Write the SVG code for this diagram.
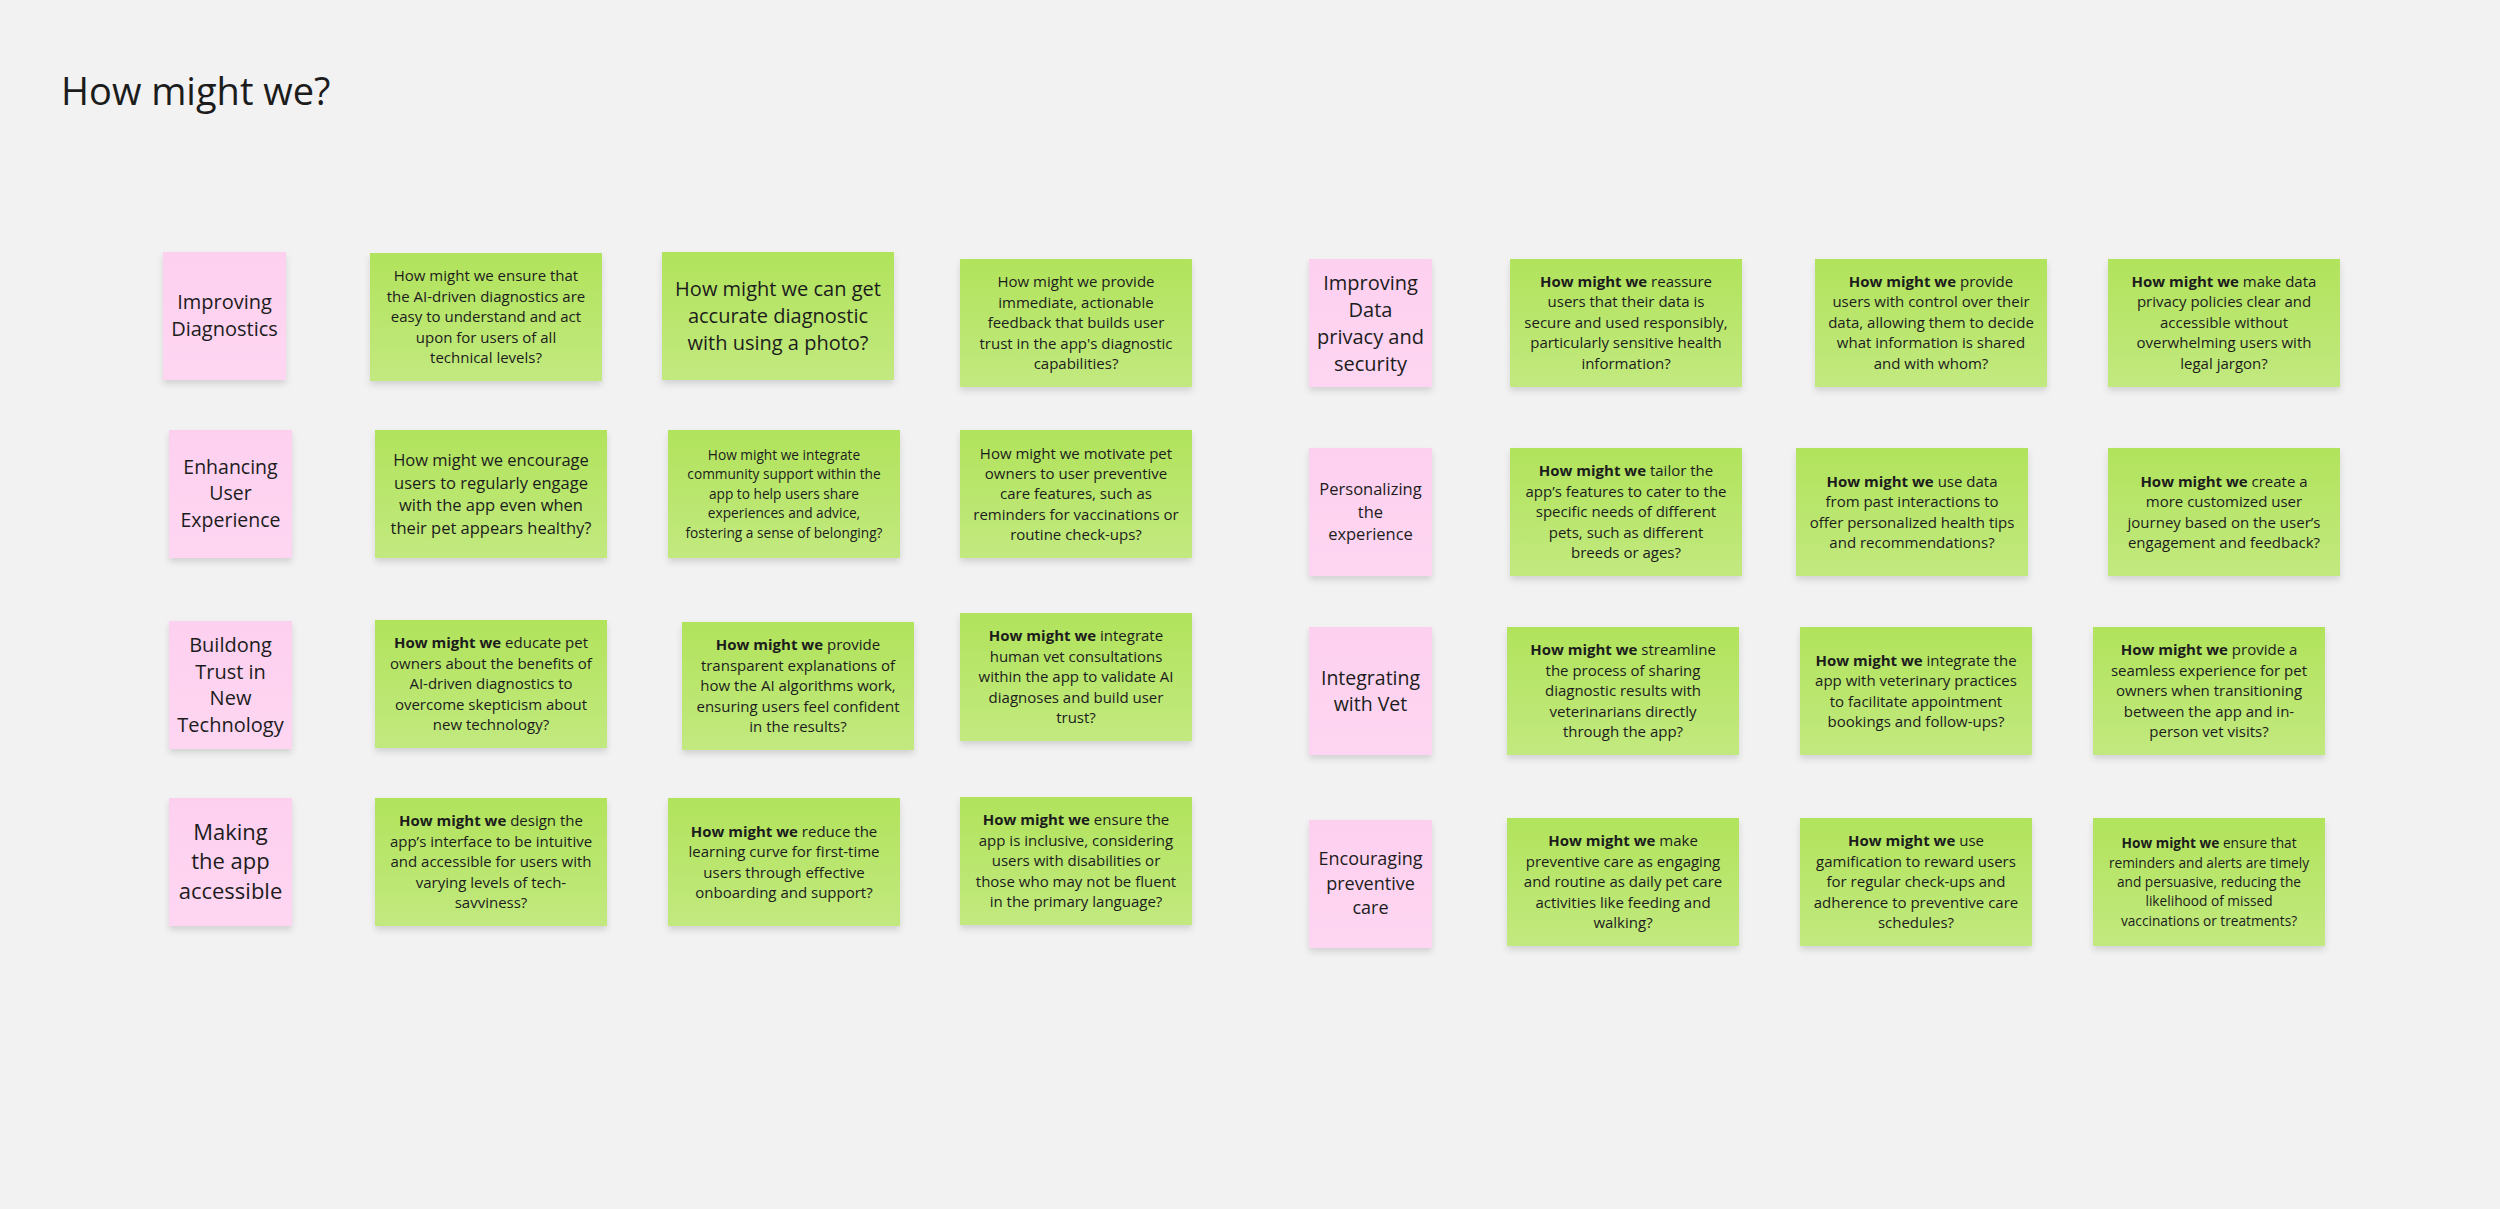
<svg xmlns="http://www.w3.org/2000/svg" width="2500" height="1209" viewBox="0 0 2500 1209">
<defs>
<linearGradient id="gg" x1="0" y1="0" x2="0" y2="1">
<stop offset="0" stop-color="#b1e35c"/>
<stop offset="1" stop-color="#c2e97f"/>
</linearGradient>
<linearGradient id="pg" x1="0" y1="0" x2="0" y2="1">
<stop offset="0" stop-color="#fdd0ef"/>
<stop offset="1" stop-color="#fed6f2"/>
</linearGradient>
<filter id="sh" x="-10%" y="-10%" width="120%" height="130%">
<feDropShadow dx="0" dy="4" stdDeviation="3" flood-color="#000" flood-opacity="0.13"/>
</filter>
</defs>
<style>
.g{fill:url(#gg);filter:url(#sh)}
.p{fill:url(#pg);filter:url(#sh)}
text{font-family:"Open Sans","Noto Sans","Liberation Sans",sans-serif;fill:#1c1c1c;text-anchor:middle}
.f14{font-size:13.7px}.f15{font-size:15px}.f165{font-size:16.5px}.f18{font-size:18px}.f195{font-size:19.5px}.f20{font-size:20px}.f22{font-size:22px}
.b{font-weight:700}
.title{font-size:38px;text-anchor:start}
</style>
<rect width="2500" height="1209" fill="#f2f2f2"/>
<text class="title" x="61" y="105">How might we?</text>

<!-- Row 1 left -->
<g id="p-improving-diagnostics"><rect class="p" x="163" y="252" width="123" height="128"/>
<text class="f20" y="309"><tspan x="224.5">Improving</tspan><tspan x="224.5" dy="26.5">Diagnostics</tspan></text></g>
<g id="g-1a"><rect class="g" x="370" y="253" width="232" height="128"/>
<text class="f15" y="281"><tspan x="486">How might we ensure that</tspan><tspan x="486" dy="20.6">the AI-driven diagnostics are</tspan><tspan x="486" dy="20.6">easy to understand and act</tspan><tspan x="486" dy="20.6">upon for users of all</tspan><tspan x="486" dy="20.6">technical levels?</tspan></text></g>
<g id="g-1b"><rect class="g" x="662" y="252" width="232" height="128"/>
<text class="f20" y="296"><tspan x="778">How might we can get</tspan><tspan x="778" dy="27">accurate diagnostic</tspan><tspan x="778" dy="27">with using a photo?</tspan></text></g>
<g id="g-1c"><rect class="g" x="960" y="259" width="232" height="128"/>
<text class="f15" y="287"><tspan x="1076">How might we provide</tspan><tspan x="1076" dy="20.6">immediate, actionable</tspan><tspan x="1076" dy="20.6">feedback that builds user</tspan><tspan x="1076" dy="20.6">trust in the app's diagnostic</tspan><tspan x="1076" dy="20.6">capabilities?</tspan></text></g>

<!-- Row 1 right -->
<g id="p-data-privacy"><rect class="p" x="1309" y="259" width="123" height="128"/>
<text class="f20" y="289.5"><tspan x="1370.5">Improving</tspan><tspan x="1370.5" dy="27">Data</tspan><tspan x="1370.5" dy="27">privacy and</tspan><tspan x="1370.5" dy="27">security</tspan></text></g>
<g id="g-1d"><rect class="g" x="1510" y="259" width="232" height="128"/>
<text class="f15" y="287"><tspan x="1626"><tspan class="b">How might we</tspan> reassure</tspan><tspan x="1626" dy="20.4">users that their data is</tspan><tspan x="1626" dy="20.4">secure and used responsibly,</tspan><tspan x="1626" dy="20.4">particularly sensitive health</tspan><tspan x="1626" dy="20.4">information?</tspan></text></g>
<g id="g-1e"><rect class="g" x="1815" y="259" width="232" height="128"/>
<text class="f15" y="287"><tspan x="1931"><tspan class="b">How might we</tspan> provide</tspan><tspan x="1931" dy="20.4">users with control over their</tspan><tspan x="1931" dy="20.4">data, allowing them to decide</tspan><tspan x="1931" dy="20.4">what information is shared</tspan><tspan x="1931" dy="20.4">and with whom?</tspan></text></g>
<g id="g-1f"><rect class="g" x="2108" y="259" width="232" height="128"/>
<text class="f15" y="287"><tspan x="2224"><tspan class="b">How might we</tspan> make data</tspan><tspan x="2224" dy="20.4">privacy policies clear and</tspan><tspan x="2224" dy="20.4">accessible without</tspan><tspan x="2224" dy="20.4">overwhelming users with</tspan><tspan x="2224" dy="20.4">legal jargon?</tspan></text></g>

<!-- Row 2 left -->
<g id="p-user-experience"><rect class="p" x="169" y="430" width="123" height="128"/>
<text class="f195" y="474"><tspan x="230.5">Enhancing</tspan><tspan x="230.5" dy="26.3">User</tspan><tspan x="230.5" dy="26.3">Experience</tspan></text></g>
<g id="g-2a"><rect class="g" x="375" y="430" width="232" height="128"/>
<text class="f165" y="465.8"><tspan x="491">How might we encourage</tspan><tspan x="491" dy="22.7">users to regularly engage</tspan><tspan x="491" dy="22.7">with the app even when</tspan><tspan x="491" dy="22.7">their pet appears healthy?</tspan></text></g>
<g id="g-2b"><rect class="g" x="668" y="430" width="232" height="128"/>
<text class="f14" y="460"><tspan x="784">How might we integrate</tspan><tspan x="784" dy="19.4">community support within the</tspan><tspan x="784" dy="19.4">app to help users share</tspan><tspan x="784" dy="19.4">experiences and advice,</tspan><tspan x="784" dy="19.4">fostering a sense of belonging?</tspan></text></g>
<g id="g-2c"><rect class="g" x="960" y="430" width="232" height="128"/>
<text class="f15" y="458.6"><tspan x="1076">How might we motivate pet</tspan><tspan x="1076" dy="20.3">owners to user preventive</tspan><tspan x="1076" dy="20.3">care features, such as</tspan><tspan x="1076" dy="20.3">reminders for vaccinations or</tspan><tspan x="1076" dy="20.3">routine check-ups?</tspan></text></g>

<!-- Row 2 right -->
<g id="p-personalizing"><rect class="p" x="1309" y="448" width="123" height="128"/>
<text class="f165" y="495"><tspan x="1370.5">Personalizing</tspan><tspan x="1370.5" dy="22.5">the</tspan><tspan x="1370.5" dy="22.5">experience</tspan></text></g>
<g id="g-2d"><rect class="g" x="1510" y="448" width="232" height="128"/>
<text class="f15" y="476.3"><tspan x="1626"><tspan class="b">How might we</tspan> tailor the</tspan><tspan x="1626" dy="20.5">app’s features to cater to the</tspan><tspan x="1626" dy="20.5">specific needs of different</tspan><tspan x="1626" dy="20.5">pets, such as different</tspan><tspan x="1626" dy="20.5">breeds or ages?</tspan></text></g>
<g id="g-2e"><rect class="g" x="1796" y="448" width="232" height="128"/>
<text class="f15" y="486.5"><tspan x="1912"><tspan class="b">How might we</tspan> use data</tspan><tspan x="1912" dy="20.5">from past interactions to</tspan><tspan x="1912" dy="20.5">offer personalized health tips</tspan><tspan x="1912" dy="20.5">and recommendations?</tspan></text></g>
<g id="g-2f"><rect class="g" x="2108" y="448" width="232" height="128"/>
<text class="f15" y="486.5"><tspan x="2224"><tspan class="b">How might we</tspan> create a</tspan><tspan x="2224" dy="20.5">more customized user</tspan><tspan x="2224" dy="20.5">journey based on the user’s</tspan><tspan x="2224" dy="20.5">engagement and feedback?</tspan></text></g>

<!-- Row 3 left -->
<g id="p-trust"><rect class="p" x="169" y="621" width="123" height="128"/>
<text class="f20" y="652"><tspan x="230.5">Buildong</tspan><tspan x="230.5" dy="26.7">Trust in</tspan><tspan x="230.5" dy="26.7">New</tspan><tspan x="230.5" dy="26.7">Technology</tspan></text></g>
<g id="g-3a"><rect class="g" x="375" y="620" width="232" height="128"/>
<text class="f15" y="648.3"><tspan x="491"><tspan class="b">How might we</tspan> educate pet</tspan><tspan x="491" dy="20.5">owners about the benefits of</tspan><tspan x="491" dy="20.5">AI-driven diagnostics to</tspan><tspan x="491" dy="20.5">overcome skepticism about</tspan><tspan x="491" dy="20.5">new technology?</tspan></text></g>
<g id="g-3b"><rect class="g" x="682" y="622" width="232" height="128"/>
<text class="f15" y="650.3"><tspan x="798"><tspan class="b">How might we</tspan> provide</tspan><tspan x="798" dy="20.5">transparent explanations of</tspan><tspan x="798" dy="20.5">how the AI algorithms work,</tspan><tspan x="798" dy="20.5">ensuring users feel confident</tspan><tspan x="798" dy="20.5">in the results?</tspan></text></g>
<g id="g-3c"><rect class="g" x="960" y="613" width="232" height="128"/>
<text class="f15" y="641.3"><tspan x="1076"><tspan class="b">How might we</tspan> integrate</tspan><tspan x="1076" dy="20.5">human vet consultations</tspan><tspan x="1076" dy="20.5">within the app to validate AI</tspan><tspan x="1076" dy="20.5">diagnoses and build user</tspan><tspan x="1076" dy="20.5">trust?</tspan></text></g>

<!-- Row 3 right -->
<g id="p-vet"><rect class="p" x="1309" y="627" width="123" height="128"/>
<text class="f195" y="684.5"><tspan x="1370.5">Integrating</tspan><tspan x="1370.5" dy="26.3">with Vet</tspan></text></g>
<g id="g-3d"><rect class="g" x="1507" y="627" width="232" height="128"/>
<text class="f15" y="655.3"><tspan x="1623"><tspan class="b">How might we</tspan> streamline</tspan><tspan x="1623" dy="20.5">the process of sharing</tspan><tspan x="1623" dy="20.5">diagnostic results with</tspan><tspan x="1623" dy="20.5">veterinarians directly</tspan><tspan x="1623" dy="20.5">through the app?</tspan></text></g>
<g id="g-3e"><rect class="g" x="1800" y="627" width="232" height="128"/>
<text class="f15" y="665.5"><tspan x="1916"><tspan class="b">How might we</tspan> integrate the</tspan><tspan x="1916" dy="20.5">app with veterinary practices</tspan><tspan x="1916" dy="20.5">to facilitate appointment</tspan><tspan x="1916" dy="20.5">bookings and follow-ups?</tspan></text></g>
<g id="g-3f"><rect class="g" x="2093" y="627" width="232" height="128"/>
<text class="f15" y="655.3"><tspan x="2209"><tspan class="b">How might we</tspan> provide a</tspan><tspan x="2209" dy="20.5">seamless experience for pet</tspan><tspan x="2209" dy="20.5">owners when transitioning</tspan><tspan x="2209" dy="20.5">between the app and in-</tspan><tspan x="2209" dy="20.5">person vet visits?</tspan></text></g>

<!-- Row 4 left -->
<g id="p-accessible"><rect class="p" x="169" y="798" width="123" height="128"/>
<text class="f22" y="839.5"><tspan x="230.5">Making</tspan><tspan x="230.5" dy="29.7">the app</tspan><tspan x="230.5" dy="29.7">accessible</tspan></text></g>
<g id="g-4a"><rect class="g" x="375" y="798" width="232" height="128"/>
<text class="f15" y="826.3"><tspan x="491"><tspan class="b">How might we</tspan> design the</tspan><tspan x="491" dy="20.5">app’s interface to be intuitive</tspan><tspan x="491" dy="20.5">and accessible for users with</tspan><tspan x="491" dy="20.5">varying levels of tech-</tspan><tspan x="491" dy="20.5">savviness?</tspan></text></g>
<g id="g-4b"><rect class="g" x="668" y="798" width="232" height="128"/>
<text class="f15" y="836.5"><tspan x="784"><tspan class="b">How might we</tspan> reduce the</tspan><tspan x="784" dy="20.5">learning curve for first-time</tspan><tspan x="784" dy="20.5">users through effective</tspan><tspan x="784" dy="20.5">onboarding and support?</tspan></text></g>
<g id="g-4c"><rect class="g" x="960" y="797" width="232" height="128"/>
<text class="f15" y="825.3"><tspan x="1076"><tspan class="b">How might we</tspan> ensure the</tspan><tspan x="1076" dy="20.5">app is inclusive, considering</tspan><tspan x="1076" dy="20.5">users with disabilities or</tspan><tspan x="1076" dy="20.5">those who may not be fluent</tspan><tspan x="1076" dy="20.5">in the primary language?</tspan></text></g>

<!-- Row 4 right -->
<g id="p-preventive"><rect class="p" x="1309" y="820" width="123" height="128"/>
<text class="f18" y="865"><tspan x="1370.5">Encouraging</tspan><tspan x="1370.5" dy="24.5">preventive</tspan><tspan x="1370.5" dy="24.5">care</tspan></text></g>
<g id="g-4d"><rect class="g" x="1507" y="818" width="232" height="128"/>
<text class="f15" y="846.3"><tspan x="1623"><tspan class="b">How might we</tspan> make</tspan><tspan x="1623" dy="20.5">preventive care as engaging</tspan><tspan x="1623" dy="20.5">and routine as daily pet care</tspan><tspan x="1623" dy="20.5">activities like feeding and</tspan><tspan x="1623" dy="20.5">walking?</tspan></text></g>
<g id="g-4e"><rect class="g" x="1800" y="818" width="232" height="128"/>
<text class="f15" y="846.3"><tspan x="1916"><tspan class="b">How might we</tspan> use</tspan><tspan x="1916" dy="20.5">gamification to reward users</tspan><tspan x="1916" dy="20.5">for regular check-ups and</tspan><tspan x="1916" dy="20.5">adherence to preventive care</tspan><tspan x="1916" dy="20.5">schedules?</tspan></text></g>
<g id="g-4f"><rect class="g" x="2093" y="818" width="232" height="128"/>
<text class="f14" y="848.3"><tspan x="2209"><tspan class="b">How might we</tspan> ensure that</tspan><tspan x="2209" dy="19.3">reminders and alerts are timely</tspan><tspan x="2209" dy="19.3">and persuasive, reducing the</tspan><tspan x="2209" dy="19.3">likelihood of missed</tspan><tspan x="2209" dy="19.3">vaccinations or treatments?</tspan></text></g>
</svg>
